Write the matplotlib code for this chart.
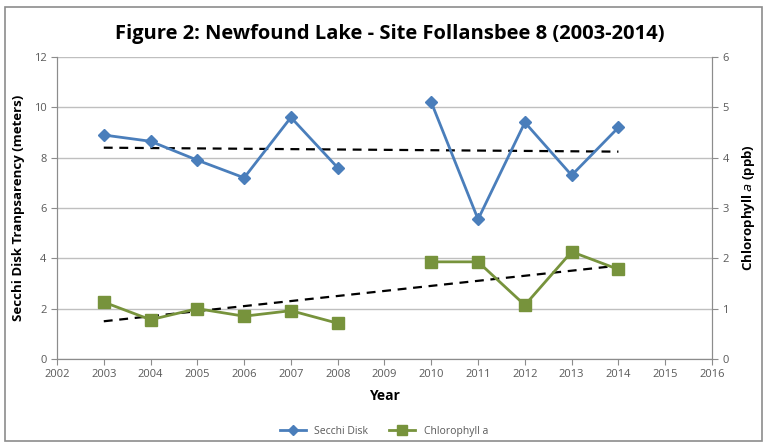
import matplotlib
matplotlib.use('Agg')
import matplotlib.pyplot as plt
import numpy as np
from matplotlib.patches import Rectangle

years = [2003, 2004, 2005, 2006, 2007, 2008, 2010, 2011, 2012, 2013, 2014]
secchi = [8.9, 8.65, 7.9, 7.2, 9.6, 7.6, 10.2, 5.55, 9.4, 7.3, 9.2]
chl = [1.13, 0.78, 1.0, 0.85, 0.96, 0.71, 1.93, 1.93, 1.07, 2.13, 1.78]

blue = '#4A7EBB'
green = '#77933C'
grey = '#595959'

plt.rcParams['font.family'] = ['Open Sans', 'DejaVu Sans']

fig = plt.figure(figsize=(7.68, 4.48), dpi=100)
fig.patches.append(Rectangle((0.006, 0.015), 0.986, 0.97, transform=fig.transFigure,
                             fill=False, edgecolor='#8c8c8c', lw=1.2))

ax = fig.add_axes([0.0742, 0.1987, 0.8529, 0.6741])
ax2 = ax.twinx()

# gaps for 2009 -> break lines
def split(xs, ys):
    xs = np.array(xs, float); ys = np.array(ys, float)
    return xs[:6], ys[:6], xs[6:], ys[6:]

x = np.array(years, float)
x1, s1, x2, s2 = split(years, secchi)
_, c1, _, c2 = split(years, chl)

for xa, ya in [(x1, s1), (x2, s2)]:
    ax.plot(xa, ya, color=blue, lw=2, marker='D', ms=6, zorder=3)
ps = np.polyfit(x, secchi, 1)
ax.plot([x[0], x[-1]], np.polyval(ps, [x[0], x[-1]]), ls=(0, (4, 3)), color='black', lw=1.6, zorder=2)

for xa, ya in [(x1, c1), (x2, c2)]:
    ax2.plot(xa, ya, color=green, lw=2, marker='s', ms=9, zorder=3)
pc = np.polyfit(x, chl, 1)
ax2.plot([x[0], x[-1]], np.polyval(pc, [x[0], x[-1]]), ls=(0, (4, 3)), color='black', lw=1.6, zorder=2)

ax.set_xlim(2002, 2016)
ax.set_ylim(0, 12)
ax2.set_ylim(0, 6)
ax.set_xticks(range(2002, 2017))
ax.set_yticks(range(0, 13, 2))
ax2.set_yticks(range(0, 7))
ax.yaxis.grid(True, color='#bfbfbf', lw=1)
ax.set_axisbelow(True)

for a in (ax, ax2):
    a.spines['top'].set_visible(False)
    for s in ('left', 'right', 'bottom'):
        a.spines[s].set_color('#8c8c8c')
    a.tick_params(labelsize=8, colors=grey, length=4, color='#8c8c8c')
ax.tick_params(axis='y', length=4)

ax.set_xlabel('Year', fontsize=10, fontweight='bold', color='black', labelpad=6)
ax.set_ylabel('Secchi Disk Tranpsarency (meters)', fontsize=9.5, fontweight='bold', color='black', labelpad=6)
ax2.set_ylabel('Chlorophyll $\\mathbf{\\mathit{a}}$ (ppb)', fontsize=9.5, fontweight='bold', color='black', labelpad=8)

fig.text(0.508, 0.925, 'Figure 2: Newfound Lake - Site Follansbee 8 (2003-2014)',
         ha='center', va='center', fontsize=14.5, fontweight='bold')

h1 = plt.Line2D([], [], color=blue, lw=2, marker='D', ms=5)
h2 = plt.Line2D([], [], color=green, lw=2, marker='s', ms=7)
fig.legend([h1, h2], ['Secchi Disk', 'Chlorophyll a'], loc='center', bbox_to_anchor=(0.5, 0.037),
           ncol=2, frameon=False, fontsize=7.5, handlelength=2.5, columnspacing=2, labelcolor=grey)

fig.savefig('out.png', dpi=100)
